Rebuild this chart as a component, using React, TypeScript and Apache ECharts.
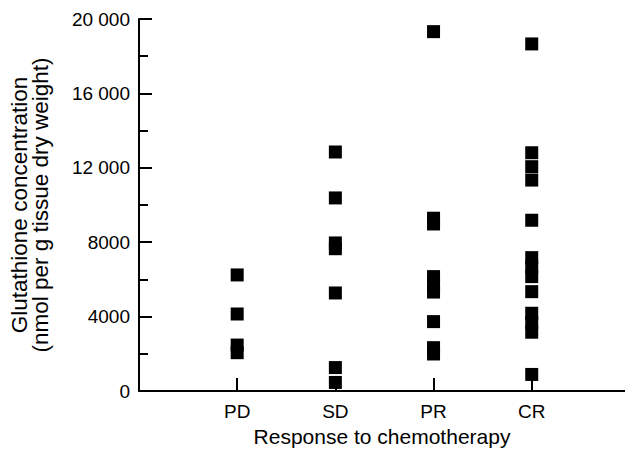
import React, { useEffect, useRef } from "react";
import * as echarts from "echarts";

const categories = ["PD", "SD", "PR", "CR"];
const pdValues = [6240, 4140, 2470, 2060];
const sdValues = [12850, 10380, 7960, 7650, 5270, 1260, 460];
const prValues = [19320, 9290, 8980, 6150, 5730, 5320, 3730, 2330, 1990];
const crValues = [18660, 12810, 12060, 11340, 9180, 7170, 6660, 6150, 5340, 4180, 3680, 3160, 890];
const yTicks = [0, 4000, 8000, 12000, 16000, 20000];
const yTickLabels = ["0", "4000", "8000", "12 000", "16 000", "20 000"];

const groups = [pdValues, sdValues, prValues, crValues];

export default function App() {
  const ref = useRef<HTMLDivElement>(null);
  useEffect(() => {
    if (!ref.current) return;
    const chart = echarts.init(ref.current, null, { renderer: "svg" });
    const data: number[][] = [];
    groups.forEach((vals, i) => vals.forEach((v) => data.push([i + 1, v])));
    const font = "'Liberation Sans', Arial, Helvetica, sans-serif";
    chart.setOption({
      animation: false,
      backgroundColor: "#ffffff",
      grid: { left: 135, right: 0, top: 19, bottom: 63, containLabel: false },
      xAxis: {
        type: "value",
        min: 0,
        max: 4.95,
        interval: 1,
        name: "Response to chemotherapy",
        nameLocation: "middle",
        nameGap: 34,
        nameTextStyle: { fontFamily: font, fontSize: 21, color: "#000" },
        axisLine: { show: true, lineStyle: { color: "#000", width: 2 } },
        axisTick: { show: true, inside: true, length: 13, lineStyle: { color: "#000", width: 2 } },
        axisLabel: {
          margin: 11,
          fontFamily: font,
          fontSize: 19,
          color: "#000",
          showMaxLabel: false,
          formatter: (v: number) => (v >= 1 && v <= 4 && Number.isInteger(v) ? categories[v - 1] : ""),
        },
        splitLine: { show: false },
      },
      yAxis: {
        type: "value",
        min: 0,
        max: 20000,
        interval: 4000,
        name: "Glutathione concentration\n(nmol per g tissue dry weight)",
        nameLocation: "middle",
        nameRotate: 90,
        nameGap: 88,
        nameTextStyle: { fontFamily: font, fontSize: 22.5, color: "#000", lineHeight: 21 },
        axisLine: { show: true, lineStyle: { color: "#000", width: 2 } },
        axisTick: { show: true, inside: true, length: 13, lineStyle: { color: "#000", width: 2 } },
        minorTick: { show: true, splitNumber: 2, length: 9, lineStyle: { color: "#000", width: 2 } },
        axisLabel: {
          margin: 9,
          fontFamily: font,
          fontSize: 19,
          color: "#000",
          formatter: (v: number) => {
            const idx = yTicks.indexOf(v);
            return idx >= 0 ? yTickLabels[idx] : "";
          },
        },
        splitLine: { show: false },
      },
      series: [
        {
          type: "scatter",
          symbol: "rect",
          symbolSize: 13,
          itemStyle: { color: "#000", opacity: 1 },
          data,
        },
      ],
    });
    return () => chart.dispose();
  }, []);
  return (
    <div
      ref={ref}
      style={{ position: "absolute", left: 0, top: 0, width: 625, height: 454, background: "#fff" }}
    />
  );
}
